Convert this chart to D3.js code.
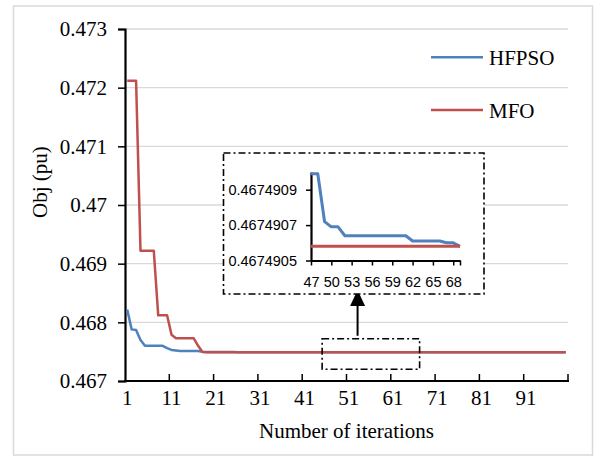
<!DOCTYPE html>
<html>
<head>
<meta charset="utf-8">
<script src="https://cdn.jsdelivr.net/npm/d3@7"></script>
<style>
  body { margin: 0; background: #fff; }
  svg { display: block; }
</style>
</head>
<body>
<svg id="chart" width="594" height="456"></svg>
<script>
// iteration numbers 1..100
let iterations = d3.range(1, 101);

let hfpso = [
	0.46822, 0.46788, 0.46787, 0.46770, 0.46760, 0.46760, 0.46760, 0.46760, 0.46760, 0.46756,
	0.46753, 0.46752, 0.46751, 0.46751, 0.46751, 0.46751, 0.46751, 0.467497, 0.467495, 0.467494,
	0.4674935, 0.467493, 0.4674928, 0.4674925, 0.4674922, 0.467492, 0.4674918, 0.4674916, 0.4674915, 0.4674914,
	0.4674913, 0.4674912, 0.4674912, 0.4674911, 0.4674911, 0.4674911, 0.4674910, 0.4674910, 0.4674910, 0.4674910,
	0.4674910, 0.4674910, 0.4674910, 0.4674910, 0.4674910, 0.4674910, 0.46749099, 0.46749099, 0.46749072, 0.46749069,
	0.46749069, 0.46749064, 0.46749064, 0.46749064, 0.46749064, 0.46749064, 0.46749064, 0.46749064, 0.46749064, 0.46749064,
	0.46749064, 0.46749061, 0.46749061, 0.46749061, 0.46749061, 0.46749061, 0.46749060, 0.46749060, 0.46749058, 0.46749058,
	0.46749058, 0.46749058, 0.46749058, 0.46749058, 0.46749058, 0.46749058, 0.46749058, 0.46749058, 0.46749058, 0.46749058,
	0.46749058, 0.46749058, 0.46749058, 0.46749058, 0.46749058, 0.46749058, 0.46749058, 0.46749058, 0.46749058, 0.46749058,
	0.46749058, 0.46749058, 0.46749058, 0.46749058, 0.46749058, 0.46749058, 0.46749058, 0.46749058, 0.46749058, 0.46749058
];

let mfo = [
	0.47212, 0.47212, 0.47212, 0.46922, 0.46922, 0.46922, 0.46922, 0.46812, 0.46812, 0.46812,
	0.46779, 0.46773, 0.46773, 0.46773, 0.46773, 0.46773, 0.46760, 0.4674952, 0.46749058, 0.46749058,
	0.46749058, 0.46749058, 0.46749058, 0.46749058, 0.46749058, 0.46749058, 0.46749058, 0.46749058, 0.46749058, 0.46749058,
	0.46749058, 0.46749058, 0.46749058, 0.46749058, 0.46749058, 0.46749058, 0.46749058, 0.46749058, 0.46749058, 0.46749058,
	0.46749058, 0.46749058, 0.46749058, 0.46749058, 0.46749058, 0.46749058, 0.46749058, 0.46749058, 0.46749058, 0.46749058,
	0.46749058, 0.46749058, 0.46749058, 0.46749058, 0.46749058, 0.46749058, 0.46749058, 0.46749058, 0.46749058, 0.46749058,
	0.46749058, 0.46749058, 0.46749058, 0.46749058, 0.46749058, 0.46749058, 0.46749058, 0.46749058, 0.46749058, 0.46749058,
	0.46749058, 0.46749058, 0.46749058, 0.46749058, 0.46749058, 0.46749058, 0.46749058, 0.46749058, 0.46749058, 0.46749058,
	0.46749058, 0.46749058, 0.46749058, 0.46749058, 0.46749058, 0.46749058, 0.46749058, 0.46749058, 0.46749058, 0.46749058,
	0.46749058, 0.46749058, 0.46749058, 0.46749058, 0.46749058, 0.46749058, 0.46749058, 0.46749058, 0.46749058, 0.46749058
];

let yTicks = [0.467, 0.468, 0.469, 0.47, 0.471, 0.472, 0.473];
let xTickLabels = [1, 11, 21, 31, 41, 51, 61, 71, 81, 91];

// zoomed region
let insetRange = [47, 69];
let insetYTicks = [0.4674905, 0.4674907, 0.4674909];
let insetXTicks = [47, 50, 53, 56, 59, 62, 65, 68];
let zoomBox = { x: [45, 67], y: [0.4672, 0.46772] };

let series = [
	{ name: 'HFPSO', values: hfpso, color: '#4f81bd' },
	{ name: 'MFO', values: mfo, color: '#c0504d' }
];

let serif = '"Liberation Serif", "Times New Roman", serif';
let sans = '"Liberation Sans", Arial, sans-serif';

let svg = d3.select('#chart');

// outer frame
svg.append('rect')
	.attr('x', 13.5).attr('y', 6)
	.attr('width', 579).attr('height', 449)
	.attr('fill', 'none')
	.attr('stroke', '#d9d9d9')
	.attr('stroke-width', 1.5);

let x = d3.scaleLinear().domain([0.5, 100.5]).range([125, 568]);
let y = d3.scaleLinear().domain([0.467, 0.473]).range([381, 29]);

// gridlines
svg.append('g')
	.selectAll('line')
	.data(yTicks.slice(1))
	.enter()
	.append('line')
	.attr('x1', x(0.5)).attr('x2', x(100.5))
	.attr('y1', d => y(d)).attr('y2', d => y(d))
	.attr('stroke', '#d9d9d9')
	.attr('stroke-width', 1.3);

// y axis
let yAxis = svg.append('g')
	.attr('transform', 'translate(' + x(0.5) + ',0)')
	.call(d3.axisLeft(y).tickValues(yTicks).tickSize(7).tickPadding(11).tickFormat(d => String(+d.toFixed(3))));
yAxis.select('.domain').attr('stroke', '#000').attr('stroke-width', 2.2);
yAxis.selectAll('.tick line').attr('stroke', '#000').attr('stroke-width', 1.5);
yAxis.selectAll('.tick text')
	.attr('font-family', serif).attr('font-size', 21).attr('fill', '#000');

// x axis: tick marks on category boundaries, labels on categories
let xAxis = svg.append('g').attr('transform', 'translate(0,' + y(0.467) + ')');
xAxis.append('line')
	.attr('x1', x(0.5) - 1).attr('x2', x(100.5) + 1)
	.attr('stroke', '#000').attr('stroke-width', 2.2);
xAxis.selectAll('line.tk')
	.data(xTickLabels.map(d => d + 9.5))
	.enter()
	.append('line')
	.attr('class', 'tk')
	.attr('x1', d => x(d)).attr('x2', d => x(d))
	.attr('y1', 0).attr('y2', -7)
	.attr('stroke', '#000').attr('stroke-width', 1.5);
xAxis.selectAll('text')
	.data(xTickLabels)
	.enter()
	.append('text')
	.attr('x', d => x(d))
	.attr('y', 24)
	.attr('text-anchor', 'middle')
	.attr('font-family', serif).attr('font-size', 21)
	.text(d => d);

// axis titles
svg.append('text')
	.attr('x', (x(0.5) + x(100.5)) / 2).attr('y', 438)
	.attr('text-anchor', 'middle')
	.attr('font-family', serif).attr('font-size', 21)
	.text('Number of iterations');

svg.append('text')
	.attr('transform', 'translate(46.5,182) rotate(-90)')
	.attr('text-anchor', 'middle')
	.attr('font-family', serif).attr('font-size', 21)
	.text('Obj (pu)');

// lines
let line = d3.line()
	.x((d, i) => x(iterations[i]))
	.y(d => y(d));

svg.append('g')
	.selectAll('path')
	.data(series)
	.enter()
	.append('path')
	.attr('d', d => line(d.values))
	.attr('fill', 'none')
	.attr('stroke', d => d.color)
	.attr('stroke-width', 2.5)
	.attr('stroke-linejoin', 'round');

// legend
let legend = svg.append('g')
	.selectAll('g')
	.data(series)
	.enter()
	.append('g')
	.attr('transform', (d, i) => 'translate(431,' + (57.3 + i * 52.7) + ')');
legend.append('line')
	.attr('x1', 0).attr('x2', 52)
	.attr('stroke', d => d.color)
	.attr('stroke-width', 2.5);
legend.append('text')
	.attr('x', 58).attr('y', 7.5)
	.attr('font-family', serif).attr('font-size', 21)
	.text(d => d.name);

// zoom box and arrow
let dash = '7,3,2,3';
svg.append('rect')
	.attr('x', x(zoomBox.x[0])).attr('y', y(zoomBox.y[1]))
	.attr('width', x(zoomBox.x[1]) - x(zoomBox.x[0]))
	.attr('height', y(zoomBox.y[0]) - y(zoomBox.y[1]))
	.attr('fill', 'none')
	.attr('stroke', '#000').attr('stroke-width', 1.6)
	.attr('stroke-dasharray', dash);

let arrowX = x(53);
svg.append('line')
	.attr('x1', arrowX).attr('x2', arrowX)
	.attr('y1', y(zoomBox.y[1]) - 3).attr('y2', 304)
	.attr('stroke', '#000').attr('stroke-width', 2);
svg.append('path')
	.attr('d', 'M' + arrowX + ',290L' + (arrowX - 7.5) + ',306L' + (arrowX + 7.5) + ',306Z')
	.attr('fill', '#000');

// inset panel
svg.append('rect')
	.attr('x', 223.5).attr('y', 153)
	.attr('width', 260.5).attr('height', 141)
	.attr('fill', '#fff')
	.attr('stroke', '#000').attr('stroke-width', 1.6)
	.attr('stroke-dasharray', dash);

let xi = d3.scaleLinear().domain(insetRange).range([311, 460]);
let yi = d3.scaleLinear().domain([0.4674905, 0.467491]).range([260.5, 172]);

let inset = svg.append('g');

let yiAxis = inset.append('g')
	.attr('transform', 'translate(' + xi(insetRange[0]) + ',0)')
	.call(d3.axisLeft(yi).tickValues(insetYTicks).tickSize(5).tickPadding(9).tickSizeOuter(0).tickFormat(d => d.toFixed(7)));
yiAxis.select('.domain').attr('stroke', '#000').attr('stroke-width', 2.2);
yiAxis.selectAll('.tick line').attr('stroke', '#000').attr('stroke-width', 1.5);
yiAxis.selectAll('.tick text')
	.attr('font-family', sans).attr('font-size', 14.5).attr('fill', '#000');

let xiAxis = inset.append('g')
	.attr('transform', 'translate(0,' + yi(0.4674905) + ')')
	.call(d3.axisBottom(xi).tickValues(insetXTicks.concat([insetRange[1]])).tickSize(5).tickPadding(11).tickSizeOuter(0)
		.tickFormat(d => d === insetRange[1] ? '' : d));
xiAxis.select('.domain').attr('stroke', '#000').attr('stroke-width', 2.2);
xiAxis.selectAll('.tick line').attr('stroke', '#000').attr('stroke-width', 1.5);
xiAxis.selectAll('.tick text')
	.attr('font-family', sans).attr('font-size', 14.5).attr('fill', '#000');

// inset uses the same series, iterations 47..69
let insetIdx = d3.range(insetRange[0] - 1, insetRange[1]);

inset.append('g')
	.selectAll('path')
	.data(series)
	.enter()
	.append('path')
	.attr('d', s => d3.line().x(i => xi(iterations[i])).y(i => yi(s.values[i]))(insetIdx))
	.attr('fill', 'none')
	.attr('stroke', s => s.color)
	.attr('stroke-width', 3)
	.attr('stroke-linejoin', 'round');
</script>
</body>
</html>
